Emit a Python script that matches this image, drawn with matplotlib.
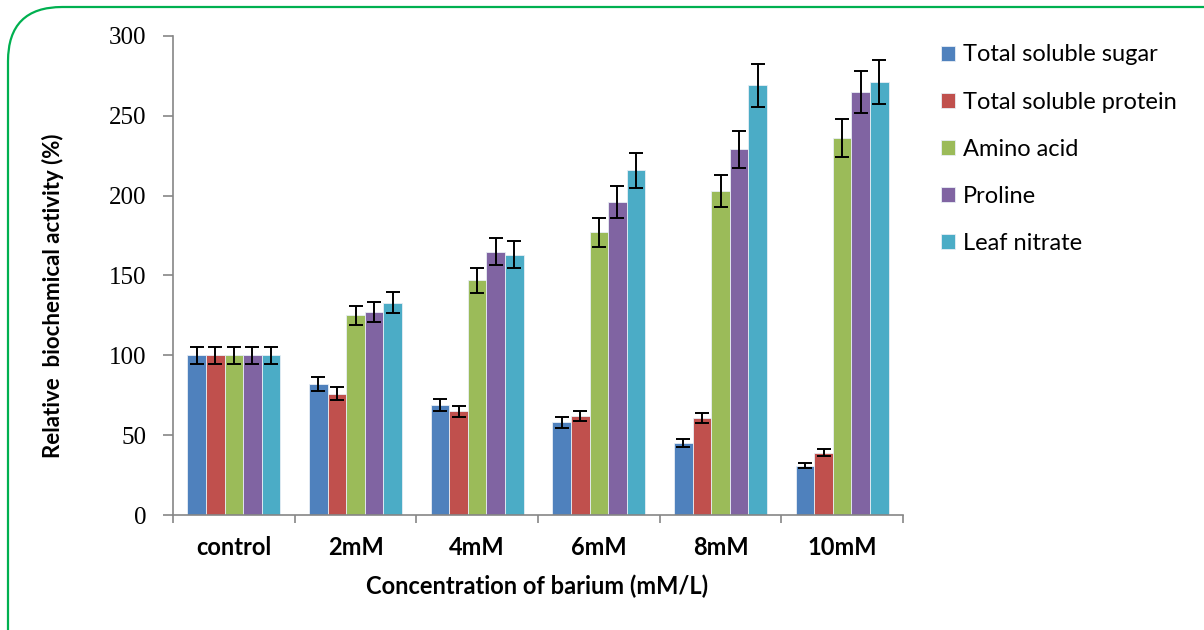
import numpy as np
import matplotlib
matplotlib.use("Agg")
import matplotlib.pyplot as plt
from matplotlib.patches import FancyBboxPatch

categories = ["control", "2mM", "4mM", "6mM", "8mM", "10mM"]
series = ["Total soluble sugar", "Total soluble protein", "Amino acid", "Proline", "Leaf nitrate"]

sugar = [100, 82, 69, 58, 45, 31]
protein = [100, 76, 65, 62, 61, 39]
amino = [100, 125, 147, 177, 203, 236]
proline = [100, 127, 165, 196, 229, 265]
nitrate = [100, 133, 163, 216, 269, 271]

sugar_err = [5.3, 4.4, 3.8, 3.2, 2.5, 1.8]
protein_err = [5.3, 3.9, 3.4, 3.4, 3.2, 2.2]
amino_err = [5.3, 6.2, 7.7, 9.0, 10.2, 11.9]
proline_err = [5.3, 6.2, 8.6, 10.0, 11.5, 13.3]
nitrate_err = [5.3, 6.5, 8.5, 11.0, 13.6, 13.8]

colors = ["#4F81BD", "#C0504D", "#9BBB59", "#8064A2", "#4BACC6"]

values = [sugar, protein, amino, proline, nitrate]
errors = [sugar_err, protein_err, amino_err, proline_err, nitrate_err]

fig = plt.figure(figsize=(12.04, 6.3), dpi=100)
ax = fig.add_axes([0.1437, 0.1825, 0.6063, 0.7604])

# rounded green frame
frame = FancyBboxPatch((8 / 1204, -0.1), 1.2, 1.1 - 7 / 630,
                       boxstyle="round,pad=0,rounding_size=0.045",
                       transform=fig.transFigure, fill=False,
                       edgecolor="#00B050", linewidth=1.6,
                       mutation_aspect=1204 / 630)
fig.patches.append(frame)

x = np.arange(len(categories))
w = 0.153
for i in range(len(series)):
    pos = x + (i - 2) * w
    ax.bar(pos, values[i], w, color=colors[i], edgecolor="#e8eef5",
           linewidth=0.6, label=series[i], zorder=2)
    ax.errorbar(pos, values[i], yerr=errors[i], fmt="none", ecolor="black",
                elinewidth=1.4, capsize=5, capthick=1.4, zorder=3)

ax.set_xlim(-0.5, len(categories) - 0.5)
ax.set_ylim(0, 300)
ax.set_yticks(range(0, 301, 50))
ax.set_yticklabels([str(v) for v in range(0, 301, 50)],
                   family="Liberation Serif", fontsize=18)

ax.set_xticks(x)
ax.set_xticklabels(categories, family="Lato", fontweight="bold", fontsize=17)
ax.set_xticks(np.arange(-0.5, len(categories)), minor=True)
ax.tick_params(axis="x", which="major", length=0, pad=15)
ax.tick_params(axis="x", which="minor", length=6, color="#868686", width=1.2)
ax.tick_params(axis="y", length=7, color="#868686", width=1.2, pad=12)

for s in ["top", "right"]:
    ax.spines[s].set_visible(False)
for s in ["left", "bottom"]:
    ax.spines[s].set_color("#868686")
    ax.spines[s].set_linewidth(1.2)

ax.set_ylabel("Relative  biochemical activity (%)", family="Lato",
              fontweight="bold", fontsize=16)
ax.yaxis.set_label_coords(-0.149, 0.458)
ax.set_xlabel("Concentration of barium (mM/L)", family="Lato",
              fontweight="bold", fontsize=17)
ax.xaxis.set_label_coords(0.499, -0.125)

ax.legend(loc="upper left", bbox_to_anchor=(1.029, 1.017), frameon=False,
          prop={"family": "Lato", "size": 17}, handlelength=0.6,
          handleheight=0.6, handletextpad=0.35, labelspacing=1.11,
          borderaxespad=0.3)

fig.savefig("out.png", dpi=100)
